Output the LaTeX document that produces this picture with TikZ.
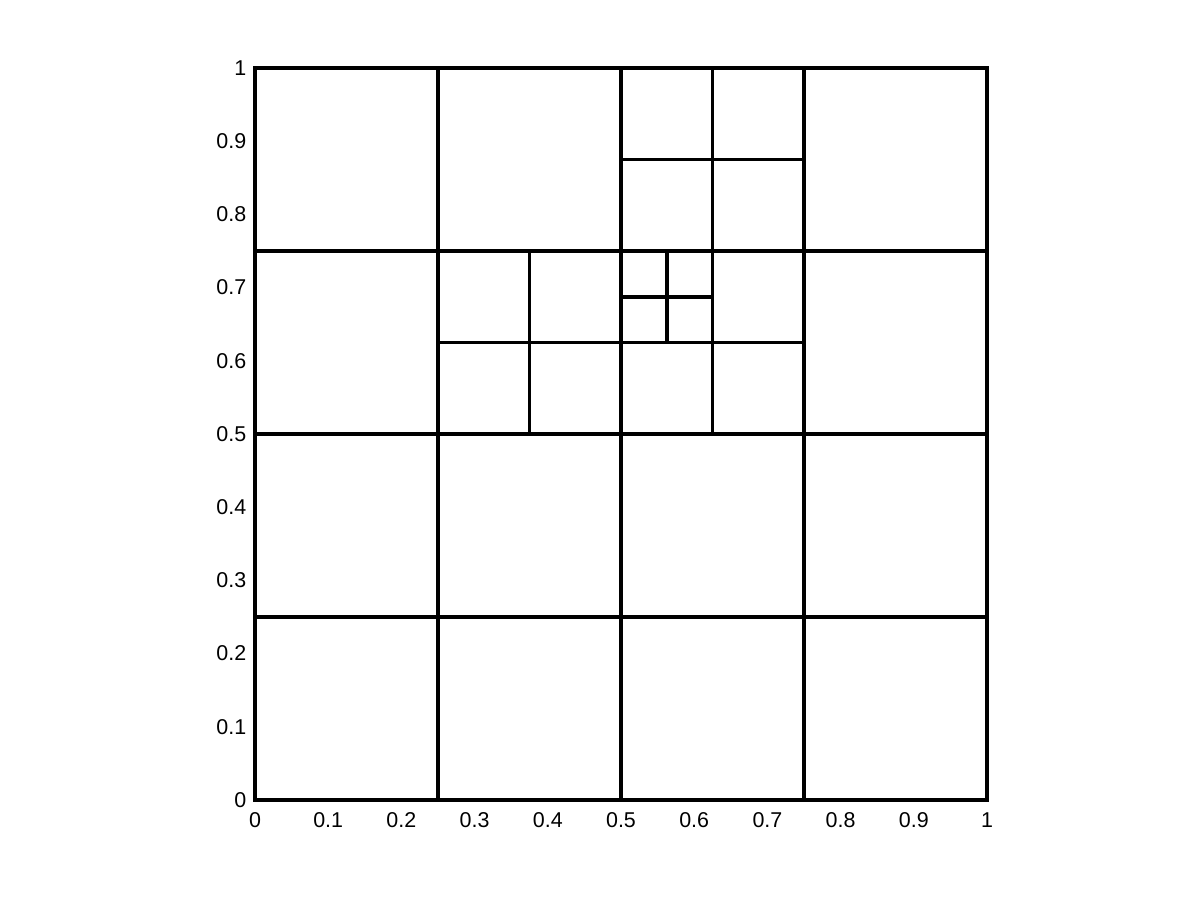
\documentclass[tikz,border=0pt]{standalone}
\usepackage{fontspec}
\setmainfont{Liberation Sans}
\begin{document}
\begin{tikzpicture}[
  grid/.style={line width=1.1pt, line cap=rect},
  xlab/.style={anchor=north, inner sep=0pt, yshift=-0.12cm, font=\fontsize{6.1}{7}\selectfont},
  ylab/.style={anchor=east, inner sep=0pt, xshift=-0.08cm, font=\fontsize{6.1}{7}\selectfont}
]
\useasboundingbox (0,0) rectangle (12,9);
\fill[white] (0,0) rectangle (12,9);
\begin{scope}[shift={(2.55cm,1cm)}, x=7.32cm, y=7.32cm]
  % outer box
  \draw[grid] (0,0) rectangle (1,1);
  % level 2 full lines
  \foreach \v in {0.25,0.5,0.75} {
    \draw[grid] (\v,0) -- (\v,1);
    \draw[grid] (0,\v) -- (1,\v);
  }
  % level 3
  \draw[grid] (0.375,0.5) -- (0.375,0.75);
  \draw[grid] (0.25,0.625) -- (0.75,0.625);
  \draw[grid] (0.625,0.5) -- (0.625,1);
  \draw[grid] (0.5,0.875) -- (0.75,0.875);
  % level 4
  \draw[grid] (0.5625,0.625) -- (0.5625,0.75);
  \draw[grid] (0.5,0.6875) -- (0.625,0.6875);
  % tick labels
  \foreach \t/\n in {0/0,0.1/1,0.2/2,0.3/3,0.4/4,0.5/5,0.6/6,0.7/7,0.8/8,0.9/9,1/10} {
    \node[xlab] (xl\n) at (\t,0) {\t};
    \node[ylab] (yl\n) at (0,\t) {\t};
  }
\end{scope}
\end{tikzpicture}
\end{document}
